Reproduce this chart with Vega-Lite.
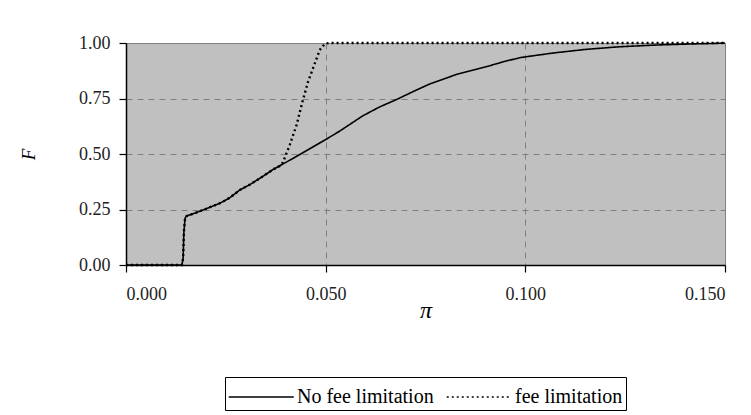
{
  "$schema": "https://vega.github.io/schema/vega-lite/v6.json",
  "width": 599,
  "height": 222,
  "autosize": {"type": "none"},
  "padding": {"left": 126, "top": 43, "right": 26, "bottom": 150},
  "background": "white",
  "config": {
    "view": {"fill": "#C0C0C0", "stroke": "#808080", "strokeWidth": 1},
    "font": "Liberation Serif",
    "axis": {
      "labelFont": "Liberation Serif",
      "labelFontSize": 18,
      "labelColor": "#222222",
      "domainColor": "black",
      "domainWidth": 1.5,
      "tickColor": "black",
      "tickWidth": 1.2,
      "tickSize": 7,
      "gridColor": "#808080",
      "gridDash": [6, 5],
      "gridWidth": 1
    }
  },
  "data": {
    "values": [
      {"pi": 0.0, "F": 0.0, "series": "No fee limitation"},
      {"pi": 0.0140, "F": 0.0, "series": "No fee limitation"},
      {"pi": 0.0143, "F": 0.03, "series": "No fee limitation"},
      {"pi": 0.0145, "F": 0.15, "series": "No fee limitation"},
      {"pi": 0.0148, "F": 0.212, "series": "No fee limitation"},
      {"pi": 0.0152, "F": 0.221, "series": "No fee limitation"},
      {"pi": 0.0170, "F": 0.232, "series": "No fee limitation"},
      {"pi": 0.0193, "F": 0.248, "series": "No fee limitation"},
      {"pi": 0.0235, "F": 0.278, "series": "No fee limitation"},
      {"pi": 0.0260, "F": 0.303, "series": "No fee limitation"},
      {"pi": 0.0285, "F": 0.338, "series": "No fee limitation"},
      {"pi": 0.0310, "F": 0.362, "series": "No fee limitation"},
      {"pi": 0.0340, "F": 0.396, "series": "No fee limitation"},
      {"pi": 0.0368, "F": 0.430, "series": "No fee limitation"},
      {"pi": 0.0410, "F": 0.472, "series": "No fee limitation"},
      {"pi": 0.0452, "F": 0.515, "series": "No fee limitation"},
      {"pi": 0.0500, "F": 0.565, "series": "No fee limitation"},
      {"pi": 0.0535, "F": 0.603, "series": "No fee limitation"},
      {"pi": 0.0593, "F": 0.672, "series": "No fee limitation"},
      {"pi": 0.0635, "F": 0.712, "series": "No fee limitation"},
      {"pi": 0.0677, "F": 0.745, "series": "No fee limitation"},
      {"pi": 0.0720, "F": 0.782, "series": "No fee limitation"},
      {"pi": 0.0760, "F": 0.815, "series": "No fee limitation"},
      {"pi": 0.0827, "F": 0.858, "series": "No fee limitation"},
      {"pi": 0.0900, "F": 0.892, "series": "No fee limitation"},
      {"pi": 0.0950, "F": 0.918, "series": "No fee limitation"},
      {"pi": 0.0990, "F": 0.935, "series": "No fee limitation"},
      {"pi": 0.1070, "F": 0.955, "series": "No fee limitation"},
      {"pi": 0.1150, "F": 0.971, "series": "No fee limitation"},
      {"pi": 0.1235, "F": 0.983, "series": "No fee limitation"},
      {"pi": 0.1330, "F": 0.991, "series": "No fee limitation"},
      {"pi": 0.1400, "F": 0.995, "series": "No fee limitation"},
      {"pi": 0.1470, "F": 0.998, "series": "No fee limitation"},
      {"pi": 0.1500, "F": 1.0, "series": "No fee limitation"},
      {"pi": 0.0, "F": 0.0, "series": "fee limitation"},
      {"pi": 0.0140, "F": 0.0, "series": "fee limitation"},
      {"pi": 0.0143, "F": 0.03, "series": "fee limitation"},
      {"pi": 0.0145, "F": 0.15, "series": "fee limitation"},
      {"pi": 0.0148, "F": 0.212, "series": "fee limitation"},
      {"pi": 0.0152, "F": 0.221, "series": "fee limitation"},
      {"pi": 0.0170, "F": 0.232, "series": "fee limitation"},
      {"pi": 0.0193, "F": 0.248, "series": "fee limitation"},
      {"pi": 0.0235, "F": 0.278, "series": "fee limitation"},
      {"pi": 0.0260, "F": 0.303, "series": "fee limitation"},
      {"pi": 0.0285, "F": 0.338, "series": "fee limitation"},
      {"pi": 0.0310, "F": 0.362, "series": "fee limitation"},
      {"pi": 0.0340, "F": 0.396, "series": "fee limitation"},
      {"pi": 0.0368, "F": 0.430, "series": "fee limitation"},
      {"pi": 0.0385, "F": 0.446, "series": "fee limitation"},
      {"pi": 0.0393, "F": 0.462, "series": "fee limitation"},
      {"pi": 0.0410, "F": 0.540, "series": "fee limitation"},
      {"pi": 0.0427, "F": 0.630, "series": "fee limitation"},
      {"pi": 0.0443, "F": 0.743, "series": "fee limitation"},
      {"pi": 0.0456, "F": 0.826, "series": "fee limitation"},
      {"pi": 0.0473, "F": 0.909, "series": "fee limitation"},
      {"pi": 0.0485, "F": 0.968, "series": "fee limitation"},
      {"pi": 0.0498, "F": 0.997, "series": "fee limitation"},
      {"pi": 0.0510, "F": 1.0, "series": "fee limitation"},
      {"pi": 0.1500, "F": 1.0, "series": "fee limitation"}
    ]
  },
  "encoding": {
    "x": {
      "field": "pi",
      "type": "quantitative",
      "scale": {"domain": [0, 0.15], "nice": false, "zero": false},
      "axis": {
        "values": [0, 0.05, 0.1, 0.15],
        "format": ".3f",
        "labelPadding": 13,
        "title": "π",
        "titleFont": "Liberation Serif",
        "titleFontStyle": "italic",
        "titleFontWeight": "normal",
        "titleFontSize": 24,
        "titleColor": "black",
        "titlePadding": -5
      }
    },
    "y": {
      "field": "F",
      "type": "quantitative",
      "scale": {"domain": [0, 1], "nice": false},
      "axis": {
        "values": [0, 0.25, 0.5, 0.75, 1],
        "format": ".2f",
        "labelPadding": 9,
        "title": "F",
        "titleFont": "Liberation Serif",
        "titleFontStyle": "italic",
        "titleFontWeight": "normal",
        "titleFontSize": 19,
        "titleColor": "black",
        "titleX": -88,
        "titleY": 111
      }
    },
    "strokeDash": {
      "field": "series",
      "type": "nominal",
      "scale": {"domain": ["No fee limitation", "fee limitation"], "range": [[1, 0], [2, 3]]},
      "legend": {
        "title": null,
        "orient": "none",
        "legendX": 99,
        "legendY": 334,
        "direction": "horizontal",
        "symbolType": "M-1,0H3",
        "symbolSize": 1056,
        "symbolStrokeWidth": 1.3,
        "symbolStrokeColor": "black",
        "labelFont": "Liberation Serif",
        "labelFontSize": 20,
        "labelColor": "black",
        "labelOffset": 35,
        "columnPadding": 10,
        "strokeColor": "black",
        "padding": 3,
        "fillColor": "white"
      }
    }
  },
  "layer": [
    {
      "transform": [{"filter": "datum.series == 'No fee limitation'"}],
      "mark": {"type": "line", "interpolate": "linear", "color": "black", "strokeWidth": 1.6}
    },
    {
      "transform": [{"filter": "datum.series == 'fee limitation'"}],
      "mark": {"type": "line", "interpolate": "linear", "color": "black", "strokeWidth": 2.4}
    }
  ]
}
